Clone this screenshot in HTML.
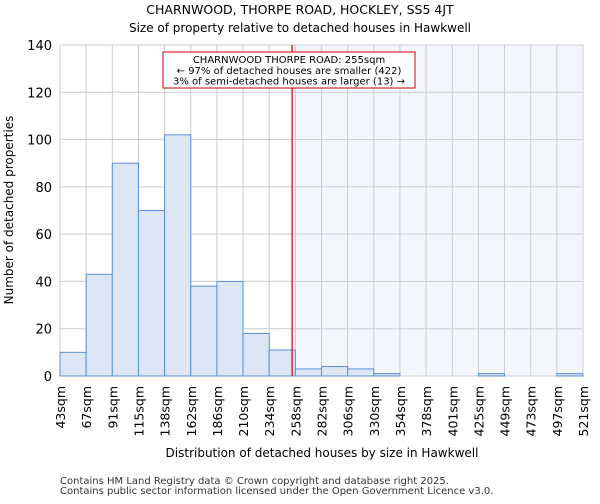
<!DOCTYPE html>
<html><head><meta charset="utf-8"><style>
body{margin:0;background:#fff;font-family:"DejaVu Sans","Liberation Sans",sans-serif}
</style></head><body>
<svg id="chart" width="600" height="500" xmlns="http://www.w3.org/2000/svg" font-family="DejaVu Sans, Liberation Sans, sans-serif">
<text x="300" y="14" text-anchor="middle" font-size="12.5">CHARNWOOD, THORPE ROAD, HOCKLEY, SS5 4JT</text>
<text x="300" y="32" text-anchor="middle" font-size="12">Size of property relative to detached houses in Hawkwell</text>
<g id="grid"></g><g id="bars"></g><g id="axes"></g>
<text transform="translate(13,210) rotate(-90)" text-anchor="middle" font-size="12">Number of detached properties</text>
<text x="322" y="457" text-anchor="middle" font-size="12">Distribution of detached houses by size in Hawkwell</text>
<text x="60" y="484" font-size="10" fill="#333">Contains HM Land Registry data © Crown copyright and database right 2025.</text>
<text x="60" y="494" font-size="10" fill="#333">Contains public sector information licensed under the Open Government Licence v3.0.</text>
</svg>
<script>
const binLabels=["43sqm","67sqm","91sqm","115sqm","138sqm","162sqm","186sqm","210sqm","234sqm","258sqm","282sqm","306sqm","330sqm","354sqm","378sqm","401sqm","425sqm","449sqm","473sqm","497sqm","521sqm"];
const counts=[10,43,90,70,102,38,40,18,11,3,4,3,1,0,0,0,1,0,0,1];
const yTicks=[0,20,40,60,80,100,120,140];
const subjectIndex=8.875;
const annotationLines=["CHARNWOOD THORPE ROAD: 255sqm","← 97% of detached houses are smaller (422)","3% of semi-detached houses are larger (13) →"];
const L=60,R=583,T=45,B=376,yMax=140;
const n=counts.length,bw=(R-L)/n;
const xs=i=>L+i*bw, ys=v=>B-(v/yMax)*(B-T);
const NS="http://www.w3.org/2000/svg";
function mk(p,t,a){const e=document.createElementNS(NS,t);for(const k in a)e.setAttribute(k,a[k]);p.appendChild(e);return e;}
const grid=document.getElementById('grid'),bars=document.getElementById('bars'),axes=document.getElementById('axes');
const sx=xs(subjectIndex);
const sh=mk(grid,'rect',{x:sx,y:T,width:R-sx,height:B-T,fill:'#f3f6fc'});


for(let i=0;i<=n;i++){const g=mk(grid,'line',{x1:xs(i),x2:xs(i),y1:T,y2:B,stroke:'#cccccc'});

}
yTicks.forEach(v=>{const g=mk(grid,'line',{x1:L,x2:R,y1:ys(v),y2:ys(v),stroke:'#cccccc'});


const t=mk(axes,'text',{x:L-8,y:ys(v)+5,'text-anchor':'end','font-size':'13'});t.textContent=v;

});
counts.forEach((c,i)=>{const r=mk(bars,'rect',{x:xs(i),y:ys(c),width:bw,height:B-ys(c),fill:'#dce6f4',stroke:'#5b8fd6','stroke-width':1});

});
binLabels.forEach((l,i)=>{const x=xs(i);const t=mk(axes,'text',{transform:`translate(${x+5},${B+10}) rotate(-90)`,'text-anchor':'end','font-size':'12.5'});t.textContent=l;

});
const ml=mk(axes,'line',{x1:sx,x2:sx,y1:T,y2:B,stroke:'#cc0000','stroke-width':1.2});


const box=mk(axes,'rect',{x:163,y:52,width:252,height:36,fill:'#fff',stroke:'#cc0000'});


annotationLines.forEach((s,i)=>{const t=mk(axes,'text',{x:289,y:63+i*10.8,'text-anchor':'middle','font-size':'10'});t.textContent=s;

});
</script>
</body></html>
